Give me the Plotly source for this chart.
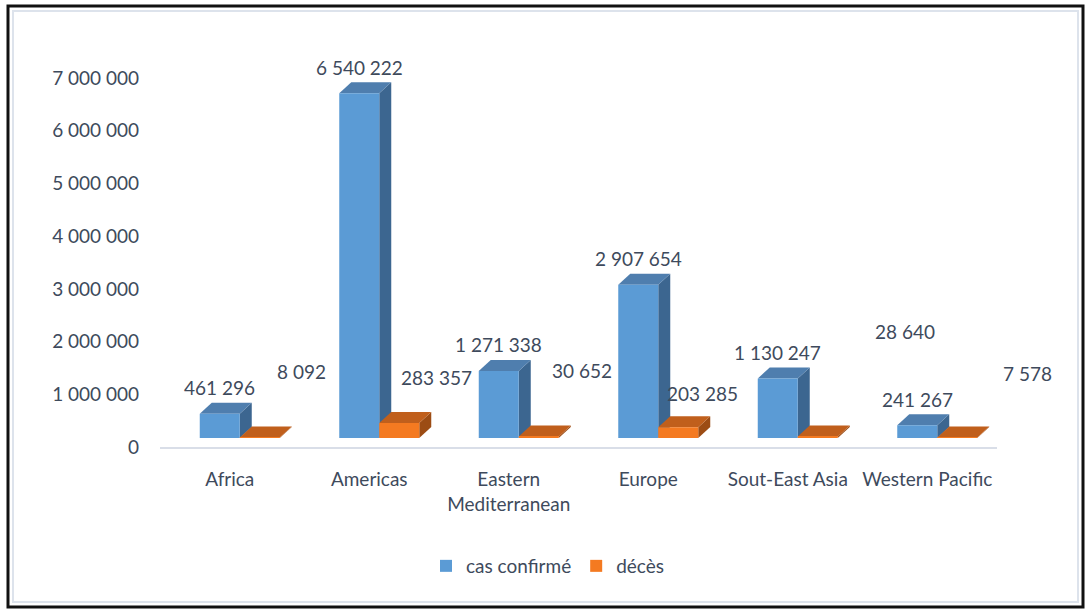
import plotly.graph_objects as go

# WHO regions and counts
regions = ["Africa", "Americas", "Eastern<br>Mediterranean", "Europe",
           "Sout-East Asia", "Western Pacific"]
confirmed = [461296, 6540222, 1271338, 2907654, 1130247, 241267]
deaths = [8092, 283357, 30652, 203285, 28640, 7578]
y_ticks = [0, 1000000, 2000000, 3000000, 4000000, 5000000, 6000000, 7000000]

# label offsets (pixels) for the death counts
death_label_dx = [42, 37, 43, 24, 87, 70]
death_label_dy = [66, 46, 66, 34, 105, 64]

# ---- geometry -------------------------------------------------------------
W, H = 1086, 610
ML, MR, MT, MB = 160, 89, 78, 163
plot_w = W - ML - MR
plot_h = H - MT - MB
n = len(regions)
px_per_cat = plot_w / n
y_max = 7000000
px_per_unit = plot_h / y_max

floor_lift_px = 9          # bars stand on a floor drawn slightly above the axis
depth_dx_px, depth_dy_px = 12, 11

bar_w = 40 / px_per_cat
blue_off = -30 / px_per_cat
orange_off = 10 / px_per_cat
ddx = depth_dx_px / px_per_cat
ddy = depth_dy_px / px_per_unit
lift = floor_lift_px / px_per_unit

TEXT = "#3e4a5c"
FONT = "Lato, sans-serif"
FS = 19

BLUE_FRONT, BLUE_TOP, BLUE_SIDE = "#5b9bd5", "#4f7eae", "#3c6690"
ORANGE_FRONT, ORANGE_TOP, ORANGE_SIDE = "#f47a21", "#c05f1c", "#9c4c14"

idx = list(range(n))

fig = go.Figure()
# empty trace so the value axis (left) gets its own subplot and tick labels
fig.add_trace(go.Scatter(x=[], y=[], showlegend=False, hoverinfo="skip",
                         yaxis="y"))
fig.add_trace(go.Bar(
    x=idx, y=confirmed, base=0, width=bar_w, offset=blue_off,
    name="cas confirmé", marker=dict(color=BLUE_FRONT, line=dict(width=0)),
    yaxis="y2", hoverinfo="y"))
fig.add_trace(go.Bar(
    x=idx, y=deaths, base=0, width=bar_w, offset=orange_off,
    name="décès", marker=dict(color=ORANGE_FRONT, line=dict(width=0)),
    yaxis="y2", hoverinfo="y"))


def depth_faces(x0, v, top_col, side_col):
    x1 = x0 + bar_w
    side = (f"M{x1},0 L{x1 + ddx},{ddy} L{x1 + ddx},{v + ddy} "
            f"L{x1},{v} Z")
    top = (f"M{x0},{v} L{x0 + ddx},{v + ddy} L{x1 + ddx},{v + ddy} "
           f"L{x1},{v} Z")
    common = dict(type="path", xref="x", yref="y2", layer="below",
                  line=dict(width=0))
    return [dict(path=side, fillcolor=side_col, **common),
            dict(path=top, fillcolor=top_col, **common)]


shapes = []
for i in idx:
    shapes += depth_faces(i + blue_off, confirmed[i], BLUE_TOP, BLUE_SIDE)
    shapes += depth_faces(i + orange_off, deaths[i], ORANGE_TOP, ORANGE_SIDE)

# chart frame
shapes.append(dict(type="rect", xref="paper", yref="paper",
                   x0=(8 - ML) / plot_w, x1=(1083 - ML) / plot_w,
                   y0=(H - MB - 607) / plot_h, y1=(H - MB - 6) / plot_h,
                   line=dict(color="#111111", width=3), layer="above"))
shapes.append(dict(type="rect", xref="paper", yref="paper",
                   x0=(13 - ML) / plot_w, x1=(1078 - ML) / plot_w,
                   y0=(H - MB - 602) / plot_h, y1=(H - MB - 11) / plot_h,
                   line=dict(color="#dde3ec", width=2), layer="above"))


def fmt(v):
    return f"{v:,}".replace(",", " ")


annotations = []
for i in idx:
    annotations.append(dict(
        x=i + blue_off + bar_w / 2, y=confirmed[i], xref="x", yref="y2",
        text=fmt(confirmed[i]), showarrow=False, yshift=26,
        xanchor="center", yanchor="middle",
        font=dict(family=FONT, size=FS, color=TEXT)))
    annotations.append(dict(
        x=i + orange_off + bar_w / 2, y=deaths[i], xref="x", yref="y2",
        text=fmt(deaths[i]), showarrow=False,
        xshift=death_label_dx[i], yshift=death_label_dy[i],
        xanchor="center", yanchor="middle",
        font=dict(family=FONT, size=FS, color=TEXT)))

fig.update_layout(
    width=W, height=H,
    margin=dict(l=ML, r=MR, t=MT, b=MB, pad=0),
    paper_bgcolor="white", plot_bgcolor="white",
    separators=", ",
    barmode="overlay",
    font=dict(family=FONT, size=FS, color=TEXT),
    xaxis=dict(range=[-0.5, n - 0.5], tickvals=idx, ticktext=regions,
               tickangle=0,
               showgrid=False, zeroline=False, showline=True,
               linecolor="#d9dee8", linewidth=2, ticks="",
               ticklabelstandoff=14, fixedrange=True,
               tickfont=dict(family=FONT, size=FS, color=TEXT)),
    yaxis=dict(range=[0, y_max], tickvals=y_ticks, tickformat=",d",
               showgrid=False, zeroline=False, showline=False, ticks="",
               ticklabelstandoff=20, fixedrange=True,
               tickfont=dict(family=FONT, size=FS, color=TEXT)),
    yaxis2=dict(range=[-lift, y_max - lift], overlaying="y", visible=False,
                fixedrange=True),
    legend=dict(orientation="h", x=(548 - ML) / plot_w,
                y=(H - MB - 566) / plot_h, xanchor="center",
                yanchor="middle", font=dict(family=FONT, size=FS, color=TEXT),
                bgcolor="rgba(0,0,0,0)"),
    shapes=shapes,
    annotations=annotations,
)

fig.write_html("out.html", config=dict(displayModeBar=False))
